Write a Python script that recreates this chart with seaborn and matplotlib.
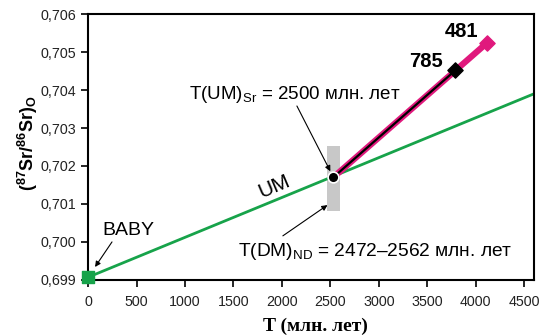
import seaborn as sns
import pandas as pd
import numpy as np
import matplotlib.pyplot as plt
from matplotlib.patches import Rectangle

sns.set_style("ticks")
plt.rcParams['font.family'] = ['Liberation Sans', 'DejaVu Sans']
plt.rcParams['mathtext.fontset'] = 'custom'
plt.rcParams['mathtext.rm'] = 'Liberation Sans'
plt.rcParams['mathtext.it'] = 'Liberation Sans:italic'
plt.rcParams['mathtext.bf'] = 'Liberation Sans:bold'
plt.rcParams['text.color'] = 'black'
plt.rcParams['axes.labelcolor'] = 'black'

# UM evolution line (green) and BABY start point
um_t = [0, 4600]
um_sr = [0.69907, 0.70390]
baby_t = [0]
baby_sr = [0.69907]

# intersection point T(UM)Sr
cross_t = [2530]
cross_sr = [0.70170]

# samples
s481_t = [2530, 4120]
s481_sr = [0.70170, 0.70525]
s785_t = [2530, 3790]
s785_sr = [0.70170, 0.70452]

# T(DM)Nd range (grey bar)
dm_range = [2472, 2562]
dm_sr = [0.70082, 0.70253]

xticks = [0, 500, 1000, 1500, 2000, 2500, 3000, 3500, 4000, 4500]
yticks = [0.699, 0.700, 0.701, 0.702, 0.703, 0.704, 0.705, 0.706]

green = '#17a34a'
pink = '#e0197d'

fig = plt.figure(figsize=(5.47, 3.36), dpi=100)
ax = fig.add_axes([0.161, 0.167, 0.815, 0.791])

ax.add_patch(Rectangle((dm_range[0] - 5, dm_sr[0]), dm_range[1] - dm_range[0] + 40,
                       dm_sr[1] - dm_sr[0], color='#c8c8c8', lw=0, zorder=1))

sns.lineplot(x=um_t, y=um_sr, color=green, linewidth=2, ax=ax, zorder=2)
sns.lineplot(x=s481_t, y=s481_sr, color=pink, linewidth=4.5, ax=ax, zorder=3)
sns.lineplot(x=s785_t, y=s785_sr, color='black', linewidth=1.6, ax=ax, zorder=4)

ax.scatter(s481_t[-1:], s481_sr[-1:], marker='D', s=60, color=pink, zorder=5, clip_on=False)
ax.scatter(s785_t[-1:], s785_sr[-1:], marker='D', s=60, color='black', zorder=5)
ax.scatter(baby_t, baby_sr, marker='s', s=75, color=green, zorder=6, clip_on=False)
ax.scatter(cross_t, cross_sr, marker='o', s=60, color='black', edgecolor='white',
           linewidth=1.2, zorder=6)

ax.text(s481_t[-1] - 95, s481_sr[-1] + 0.00004, '481', fontsize=14.5, fontweight='bold',
        ha='right', va='bottom')
ax.text(s785_t[-1] - 125, s785_sr[-1] - 0.00001, '785', fontsize=14.5, fontweight='bold',
        ha='right', va='bottom')

arrow = dict(arrowstyle='-|>', color='black', lw=0.8, mutation_scale=8, shrinkA=0, shrinkB=0)

ax.text(1040, 0.70389, r'T(UM)$_{\mathrm{Sr}}$ = 2500 млн. лет', fontsize=13.5,
        ha='left', va='center')
ax.annotate('', xy=(2500, 0.70186), xytext=(2155, 0.70358), arrowprops=arrow)

ax.text(1546, 0.69976, r'T(DM)$_{\mathrm{ND}}$ = 2472–2562 млн. лет', fontsize=13.8,
        ha='left', va='center')
ax.annotate('', xy=(2470, 0.70097), xytext=(2010, 0.70016), arrowprops=arrow)

ax.text(144, 0.70029, 'BABY', fontsize=14, ha='left', va='center')
ax.annotate('', xy=(72, 0.69934), xytext=(247, 0.70000), arrowprops=arrow)

ax.text(1918, 0.70147, 'UM', fontsize=15, rotation=23, ha='center', va='center')

ax.set_xlim(0, 4600)
ax.set_ylim(0.699, 0.706)
ax.set_xticks(xticks)
ax.set_yticks(yticks)
ax.set_xticklabels([str(v) for v in xticks], fontsize=10.3)
ax.set_yticklabels([f'{v:.3f}'.replace('.', ',') for v in yticks], fontsize=10.3)
ax.tick_params(axis='both', length=5, width=1.2, color='black', labelcolor='#222222')
ax.tick_params(axis='x', pad=6)
for sp in ax.spines.values():
    sp.set_linewidth(1.5)
    sp.set_color('black')

ax.set_xlabel('T (млн. лет)', fontsize=14, fontweight='bold',
              family=['Liberation Serif', 'DejaVu Serif'])
ax.xaxis.set_label_coords(0.511, -0.143)
ax.set_ylabel(r'$\mathbf{(^{87}Sr/^{86}Sr)_{O}}$', fontsize=13)
ax.yaxis.set_label_coords(-0.108, 0.515)

fig.savefig('out.png', dpi=100)
